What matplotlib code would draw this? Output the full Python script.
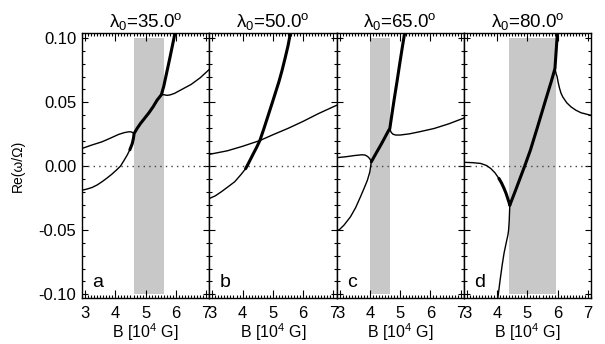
import matplotlib
matplotlib.use("Agg")
import matplotlib.pyplot as plt
from matplotlib.ticker import MultipleLocator, FormatStrFormatter

plt.rcParams['font.family'] = ['Liberation Sans', 'DejaVu Sans']
plt.rcParams['mathtext.fontset'] = 'custom'
plt.rcParams['mathtext.rm'] = 'Liberation Sans'
plt.rcParams['mathtext.it'] = 'Liberation Sans:italic'
plt.rcParams['axes.unicode_minus'] = False

# panel titles / letters
angles = [35.0, 50.0, 65.0, 80.0]
letters = ['a', 'b', 'c', 'd']
# shaded B ranges (None = no shading)
shade = [(4.63, 5.6), None, (4.0, 4.65), (4.4, 5.95)]

# panel a
a_thin1_x = [2.9, 3.2, 3.56, 3.85, 4.11, 4.3, 4.44, 4.52, 4.57, 4.62]
a_thin1_y = [0.0138, 0.0163, 0.019, 0.022, 0.0248, 0.0262, 0.0268, 0.0268, 0.0262, 0.0255]
a_thin2_x = [2.9, 3.05, 3.23, 3.4, 3.56, 3.72, 3.89, 4.03, 4.17, 4.28, 4.39, 4.48]
a_thin2_y = [-0.0188, -0.018, -0.0167, -0.0147, -0.0122, -0.0094, -0.0062, -0.0032,
             0.0, 0.0042, 0.0086, 0.0128]
a_thick_x = [4.48, 4.56, 4.6, 4.62, 4.72, 4.83, 4.97, 5.11, 5.25, 5.38, 5.52,
             5.6, 5.7, 5.8, 5.9, 5.97, 6.0]
a_thick_y = [0.0128, 0.0177, 0.022, 0.0255, 0.0295, 0.0333, 0.0375, 0.0417, 0.0465,
             0.0516, 0.0558, 0.0625, 0.0735, 0.0845, 0.096, 0.104, 0.108]
a_thin3_x = [5.52, 5.6, 5.7, 5.8, 5.95, 6.2, 6.5, 6.8, 7.1]
a_thin3_y = [0.0558, 0.0558, 0.0553, 0.0556, 0.0568, 0.06, 0.0638, 0.069, 0.0755]

# panel b
b_thin1_x = [2.9, 3.5, 4.0, 4.57, 5.0, 5.5, 6.0, 6.5, 7.1]
b_thin1_y = [0.0092, 0.012, 0.0155, 0.020, 0.0245, 0.0295, 0.035, 0.041, 0.0475]
b_thin2_x = [2.9, 3.1, 3.3, 3.5, 3.74, 3.95, 4.1]
b_thin2_y = [-0.0253, -0.0232, -0.020, -0.0165, -0.0122, -0.0065, -0.002]
b_thick_x = [4.1, 4.2, 4.35, 4.46, 4.57, 4.7, 4.85, 5.0, 5.1, 5.2, 5.3, 5.4,
             5.5, 5.58, 5.62]
b_thick_y = [-0.002, 0.0025, 0.0095, 0.0145, 0.020, 0.029, 0.040, 0.051, 0.0585,
             0.066, 0.0745, 0.084, 0.094, 0.104, 0.108]

# panel c
c_thin1_x = [2.9, 3.2, 3.5, 3.75, 3.85, 3.93, 3.99, 4.03, 4.05]
c_thin1_y = [0.0066, 0.0073, 0.0083, 0.0089, 0.0086, 0.0075, 0.006, 0.0045, 0.0034]
c_thin2_x = [2.9, 3.0, 3.15, 3.36, 3.53, 3.69, 3.82, 3.92, 4.0, 4.05]
c_thin2_y = [-0.0505, -0.0495, -0.046, -0.0396, -0.0325, -0.024, -0.0168, -0.011,
             -0.0045, 0.0034]
c_thick_x = [4.05, 4.2, 4.36, 4.5, 4.6, 4.66, 4.72, 4.8, 4.9, 5.0, 5.08, 5.15, 5.18]
c_thick_y = [0.0034, 0.0098, 0.0164, 0.0225, 0.027, 0.0294, 0.039, 0.0516, 0.0665,
             0.082, 0.094, 0.104, 0.108]
c_thin3_x = [4.66, 4.7, 4.76, 4.85, 5.0, 5.3, 5.63, 6.12, 6.6, 7.1]
c_thin3_y = [0.0294, 0.0265, 0.025, 0.0243, 0.0243, 0.0252, 0.0268, 0.0294, 0.033, 0.0375]

# panel d
d_thin1_x = [2.9, 3.2, 3.46, 3.65, 3.79, 3.93, 4.06]
d_thin1_y = [0.003, 0.0027, 0.0021, 0.0005, -0.0018, -0.0052, -0.0096]
d_thick1_x = [4.06, 4.15, 4.23, 4.3, 4.35, 4.39, 4.42]
d_thick1_y = [-0.0096, -0.0133, -0.0174, -0.0215, -0.0252, -0.028, -0.0305]
d_thin2_x = [4.02, 4.1, 4.17, 4.23, 4.3, 4.36, 4.38, 4.4, 4.42]
d_thin2_y = [-0.104, -0.089, -0.077, -0.068, -0.06, -0.0535, -0.05, -0.043, -0.0305]
d_thick2_x = [4.42, 4.6, 4.91, 5.1, 5.34, 5.6, 5.8, 5.91, 5.95, 5.99, 6.0]
d_thick2_y = [-0.0305, -0.0195, 0.0, 0.0125, 0.031, 0.0515, 0.067, 0.0763, 0.09,
              0.104, 0.108]
d_thin3_x = [5.91, 5.95, 5.98, 6.02, 6.06, 6.11, 6.17, 6.3, 6.44, 6.6, 6.77, 7.05, 7.1]
d_thin3_y = [0.0763, 0.072, 0.070, 0.065, 0.061, 0.057, 0.054, 0.0495, 0.0463,
             0.0437, 0.0417, 0.040, 0.0398]

thin = [
    [(a_thin1_x, a_thin1_y), (a_thin2_x, a_thin2_y), (a_thin3_x, a_thin3_y)],
    [(b_thin1_x, b_thin1_y), (b_thin2_x, b_thin2_y)],
    [(c_thin1_x, c_thin1_y), (c_thin2_x, c_thin2_y), (c_thin3_x, c_thin3_y)],
    [(d_thin1_x, d_thin1_y), (d_thin2_x, d_thin2_y), (d_thin3_x, d_thin3_y)],
]
thick = [
    [(a_thick_x, a_thick_y)],
    [(b_thick_x, b_thick_y)],
    [(c_thick_x, c_thick_y)],
    [(d_thick1_x, d_thick1_y), (d_thick2_x, d_thick2_y)],
]

fig = plt.figure(figsize=(6.05, 3.44), dpi=100)
left, right, bottom, top = 82 / 605, 591 / 605, 46 / 344, 311 / 344
w = (right - left) / 4

for i in range(4):
    ax = fig.add_axes([left + i * w, bottom, w, top - bottom])
    ax.set_xlim(2.9, 7.1)
    ax.set_ylim(-0.103, 0.104)
    if shade[i] is not None:
        ax.fill_between(shade[i], -0.1, 0.1, color='#c8c8c8', lw=0)
    ax.axhline(0, color='#444444', lw=1.0, ls=(0, (1, 3)))
    for x, y in thin[i]:
        ax.plot(x, y, color='black', lw=1.0, solid_joinstyle='round')
    for x, y in thick[i]:
        ax.plot(x, y, color='black', lw=2.2, solid_capstyle='round',
                solid_joinstyle='round')

    ax.xaxis.set_major_locator(MultipleLocator(1))
    ax.xaxis.set_minor_locator(MultipleLocator(0.1))
    ax.yaxis.set_major_locator(MultipleLocator(0.05))
    ax.yaxis.set_minor_locator(MultipleLocator(0.01))
    ax.tick_params(which='both', direction='in', top=True, right=True, width=0.8)
    ax.tick_params(axis='x', which='major', length=6, pad=6, labelsize=12)
    ax.tick_params(axis='x', which='minor', length=2.5)
    ax.tick_params(axis='y', which='major', length=4.5, pad=4, labelsize=12)
    ax.tick_params(axis='y', which='minor', length=2.5)
    ax.yaxis.set_major_formatter(FormatStrFormatter('%.2f'))
    if i > 0:
        ax.tick_params(axis='y', labelleft=False)
    for s in ax.spines.values():
        s.set_linewidth(1.0)

    ax.set_title(r'λ$_0$=%.1f$^\mathrm{o}$' % angles[i], fontsize=13.5, pad=4)
    ax.set_xlabel(r'B [10$^4$ G]', fontsize=11.5, labelpad=0)
    ax.text(0.08, 0.04, letters[i], transform=ax.transAxes, fontsize=14,
            ha='left', va='baseline')
    if i == 0:
        ax.set_ylabel('Re(ω/Ω)', fontsize=10)
        ax.yaxis.set_label_coords(-0.45, 0.5)

fig.savefig('out.png', dpi=100)
